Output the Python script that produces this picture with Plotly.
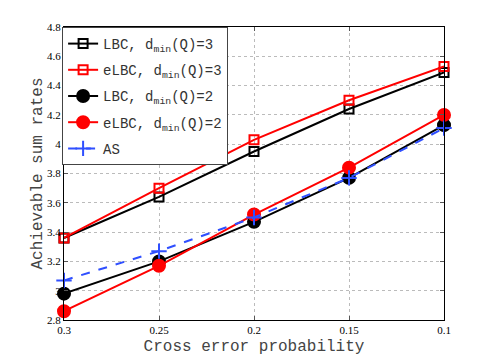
import plotly.graph_objects as go

# cross error probability (x axis, shown reversed)
p_err = [0.3, 0.25, 0.2, 0.15, 0.1]

lbc_d3 = [3.36, 3.64, 3.95, 4.24, 4.49]
elbc_d3 = [3.36, 3.70, 4.03, 4.30, 4.53]
lbc_d2 = [2.98, 3.20, 3.47, 3.77, 4.13]
elbc_d2 = [2.86, 3.17, 3.52, 3.84, 4.20]
as_rate = [3.07, 3.27, 3.50, 3.77, 4.11]

mono = "Liberation Mono, Courier New, monospace"
serif = "Liberation Serif, Times New Roman, serif"

fig = go.Figure()

series = [
    ("LBC, d<sub>min</sub>(Q)=3", lbc_d3, "black", "square-open", 9, "solid"),
    ("eLBC, d<sub>min</sub>(Q)=3", elbc_d3, "red", "square-open", 9, "solid"),
    ("LBC, d<sub>min</sub>(Q)=2", lbc_d2, "black", "circle", 12, "solid"),
    ("eLBC, d<sub>min</sub>(Q)=2", elbc_d2, "red", "circle", 12, "solid"),
    ("AS", as_rate, "#2f4fff", "cross-thin-open", 11, "dash"),
]
for i, (name, ys, col, sym, sz, dash) in enumerate(series):
    fig.add_trace(go.Scatter(
        x=p_err, y=ys, name=name, mode="lines+markers",
        legendgroup=f"g{i}", cliponaxis=False,
        line=dict(color=col, width=2, dash=dash),
        marker=dict(symbol=sym, size=sz, color=col,
                    line=dict(color=col, width=2)),
    ))

# page body has an 8px margin, so shift the margins to compensate
fig.update_layout(
    width=491, height=360,
    margin=dict(l=56, r=55, t=19, b=48),
    plot_bgcolor="white", paper_bgcolor="white",
    showlegend=True,
    legend=dict(x=-0.005, y=1, xanchor="left", yanchor="top",
                bgcolor="white", bordercolor="#444", borderwidth=1,
                font=dict(family=mono, size=14, color="#333"),
                tracegroupgap=5, itemwidth=30),
    xaxis=dict(
        range=[0.3, 0.1], tickvals=p_err, ticktext=["0.3", "0.25", "0.2", "0.15", "0.1"],
        showgrid=True, gridcolor="#bbb", griddash="dot", gridwidth=1,
        showline=True, linecolor="black", linewidth=1, mirror="ticks",
        ticks="inside", ticklen=4, tickcolor="#555",
        tickfont=dict(family=serif, size=11, color="black"),
        title=dict(text="Cross error probability", font=dict(family=mono, size=16, color="#444"), standoff=4),
        zeroline=False,
    ),
    yaxis=dict(
        range=[2.8, 4.8], dtick=0.2, tickformat="~g",
        showgrid=True, gridcolor="#bbb", griddash="dot", gridwidth=1,
        showline=True, linecolor="black", linewidth=1, mirror="ticks",
        ticks="inside", ticklen=4, tickcolor="#555",
        tickfont=dict(family=serif, size=11, color="black"),
        title=dict(text="Achievable sum rates", font=dict(family=mono, size=16, color="#444"), standoff=0),
        zeroline=False,
    ),
)

fig.write_html("out.html")
